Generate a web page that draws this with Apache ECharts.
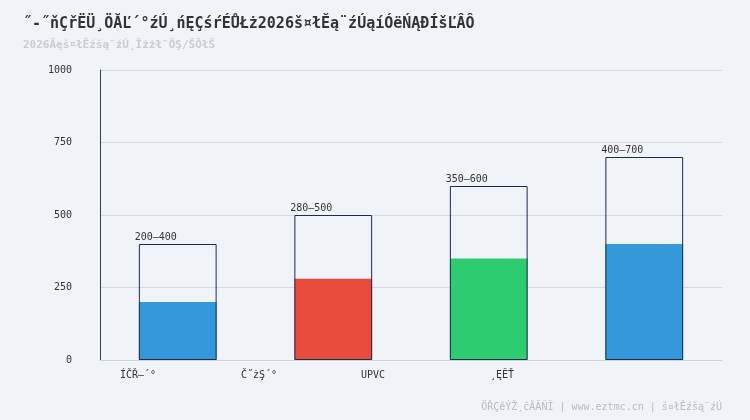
<!DOCTYPE html><html><head><meta charset="utf-8"><script src="https://cdn.jsdelivr.net/npm/echarts@6/dist/echarts.min.js"></script></head><body style="margin:0;background:#f0f3f8"><div id="c" style="width:750px;height:420px"></div><script>
const categories=["ÍČŘ–´°","Č˝żŞ´°","UPVC","¸ĘĔŤ"];
const lowVals=[200,280,350,400];
const highVals=[400,500,600,700];
const colors=["#3498db","#e74c3c","#2ecc71","#3498db"];
const labelX=[120,241,361,490];
const F='"DejaVu Sans Mono", monospace';
const ch=echarts.init(document.getElementById('c'));
ch.setOption({backgroundColor:'#f0f3f8',animation:false,
title:{text:"˝-˝ňÇřËÜ¸ÖĂĽ´°źÚ¸ńĘÇśŕÉŮŁż2026š¤łĚą¨źÚąíÓëŃĄĐÍšĽÂÔ",subtext:"2026Äęš¤łĚźšą¨źÚ¸Îżżł¨ÔŞ/ŠÖłŠ",left:18,top:12,itemGap:8,
textStyle:{fontFamily:F,fontSize:15,fontWeight:'bold',color:'#333'},subtextStyle:{fontFamily:F,fontSize:11,fontWeight:'bold',color:'#ccc'}},
grid:{left:100,right:28,top:70,bottom:60},
xAxis:{type:'category',data:categories,axisTick:{show:false},axisLabel:{show:false},axisLine:{lineStyle:{color:'#ccd3e0'}}},
yAxis:{type:'value',min:0,max:1000,interval:250,axisLine:{show:true,lineStyle:{color:'#2c3e50'}},axisLabel:{fontFamily:F,fontSize:10,color:'#333',margin:28,formatter:v=>String(v)},splitLine:{lineStyle:{color:'#d5dbe6'}}},
graphic:categories.map((c,i)=>({type:'text',left:labelX[i],top:370,style:{text:c,font:'10px '+F,fill:'#333'}})).concat([{type:'text',right:28,top:402,style:{text:"ÖŘÇěÝŽ¸čÂĂÑĨ | www.eztmc.cn | š¤łĚźšą¨źÚ",font:'10px '+F,fill:'#bbb'}}]),
series:[
{type:'bar',data:highVals,barWidth:'50%',itemStyle:{color:'rgba(0,0,0,0)',borderColor:'#1f2d4d',borderWidth:1},
 label:{show:true,position:'top',distance:2,offset:[-22,0],fontFamily:F,fontSize:10,color:'#333',formatter:p=>lowVals[p.dataIndex]+'–'+highVals[p.dataIndex]},z:3},
{type:'bar',data:lowVals.map((v,i)=>({value:v,itemStyle:{color:colors[i]}})),barWidth:'50%',barGap:'-100%',z:2}
]});
</script></body></html>
